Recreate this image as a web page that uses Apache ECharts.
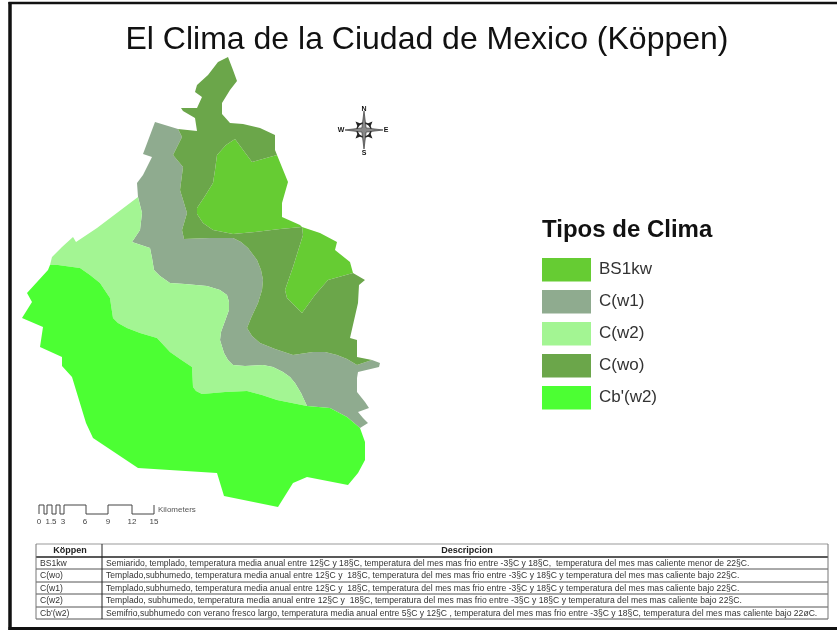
<!DOCTYPE html>
<html><head><meta charset="utf-8">
<style>html,body{margin:0;padding:0;background:#fff}#c{width:837px;height:630px}</style>
<script src="https://cdn.jsdelivr.net/npm/echarts@6/dist/echarts.min.js"></script>
</head><body><div id="c"></div>
<script>
// Climate classes, legend order
const climates = ["BS1kw", "C(w1)", "C(w2)", "C(wo)", "Cb'(w2)"];
const climateColors = ["#66cc33", "#8fab8f", "#a3f593", "#6ba64a", "#4cff33"];
// Table
const tableHead = ["Köppen", "Descripcion"];
const tableCodes = ["BS1kw", "C(wo)", "C(w1)", "C(w2)", "Cb'(w2)"];
const tableDesc = [
  "Semiarido, templado, temperatura media anual entre 12§C y 18§C, temperatura del mes mas frio entre -3§C y 18§C,  temperatura del mes mas caliente menor de 22§C.",
  "Templado,subhumedo, temperatura media anual entre 12§C y  18§C, temperatura del mes mas frio entre -3§C y 18§C y temperatura del mes mas caliente bajo 22§C.",
  "Templado,subhumedo, temperatura media anual entre 12§C y  18§C, temperatura del mes mas frio entre -3§C y 18§C y temperatura del mes mas caliente bajo 22§C.",
  "Templado, subhumedo, temperatura media anual entre 12§C y  18§C, temperatura del mes mas frio entre -3§C y 18§C y temperatura del mes mas caliente bajo 22§C.",
  "Semifrio,subhumedo con verano fresco largo, temperatura media anual entre 5§C y 12§C , temperatura del mes mas frio entre -3§C y 18§C, temperatura del mes mas caliente bajo 22øC."
];
const scaleKm = ["0", "1.5", "3", "6", "9", "12", "15"];

// Shared boundaries of the climate regions
const darkOuterNorth = [[228,57],[233,70],[237,81],[230,90],[222,103],[222,114],[230,123],[243,124],[260,128],[275,135],[275,150],[277,155]];
const blobTop = [[277,155],[252,162],[235,139]];
const blobWest = [[235,139],[226,145],[217,155],[215,170],[213,183],[205,196],[197,208],[197,214],[203,223],[213,230],[233,234],[255,232],[280,229],[302,227]];
const blobOuter = [[277,155],[288,182],[282,203],[282,217],[300,225],[302,227]];
const eastOuter = [[302,227],[320,233],[337,242],[335,250],[350,262],[353,273]];
const eastInner = [[302,227],[303,235],[293,267],[285,290],[287,298],[302,313],[315,295],[328,280],[353,273]];
const darkOuterEast = [[353,273],[365,280],[359,285],[358,303],[350,338],[357,340],[357,357],[372,360]];
const greyDark = [[372,360],[357,365],[347,359],[337,355],[325,352],[313,352],[293,355],[275,349],[260,343],[252,336],[247,328],[251,318],[258,303],[262,290],[263,280],[261,270],[257,260],[248,248],[241,242],[233,238],[210,238],[184,239],[182,230],[187,213],[180,190],[183,167],[173,155],[182,137],[178,129]];
const darkWest = [[178,129],[197,131],[195,118],[183,111],[181,108],[197,108],[202,97],[195,92],[197,85],[208,75],[218,62],[228,57]];
const greyEast = [[372,360],[380,363],[379,367],[358,372],[357,378],[357,392],[365,402],[369,408],[358,412],[363,418],[368,423],[360,428]];
const cbGrey = [[360,428],[347,417],[330,408],[307,406]];
const lightGrey = [[307,406],[301,393],[295,383],[290,377],[283,372],[273,367],[263,365],[245,366],[233,365],[228,360],[224,353],[220,340],[221,332],[229,310],[229,302],[227,295],[220,290],[207,286],[185,284],[170,283],[160,276],[154,270],[152,258],[150,248],[132,242],[140,230],[142,213],[138,197]];
const greyWest = [[138,197],[137,183],[143,175],[152,157],[143,154],[155,122],[178,129]];
const lightCb = [[307,406],[277,400],[262,395],[247,391],[225,392],[202,394],[196,391],[193,387],[192,367],[180,359],[170,352],[157,338],[140,333],[127,328],[118,323],[113,318],[111,305],[110,298],[100,283],[90,275],[80,268],[58,265],[50,265]];
const lightOuter = [[50,265],[52,257],[62,247],[73,237],[76,242],[97,228],[138,197]];
const cbOuter = [[360,428],[365,442],[365,460],[358,473],[348,485],[307,477],[293,483],[278,507],[224,496],[217,473],[138,468],[93,438],[86,423],[72,377],[62,366],[62,357],[40,347],[43,327],[22,318],[32,302],[27,293],[48,270],[50,265]];

const rev = a => a.slice().reverse();
const ring = (...edges) => { const r = [].concat(...edges); r.push(r[0]); return r; };
const regionRings = {
  "BS1kw": [ring(blobOuter, rev(blobWest), rev(blobTop)), ring(eastOuter, rev(eastInner))],
  "C(w1)": [ring(greyEast, cbGrey, lightGrey, greyWest, rev(greyDark))],
  "C(w2)": [ring(lightGrey, rev(lightOuter), rev(lightCb))],
  "C(wo)": [ring(darkOuterNorth, blobTop, blobWest, eastInner, darkOuterEast, greyDark, darkWest)],
  "Cb'(w2)": [ring(cbOuter, rev(lightCb), rev(cbGrey))]
};
const geoJson = {
  type: "FeatureCollection",
  features: climates.map(n => ({
    type: "Feature", properties: { name: n },
    geometry: { type: "MultiPolygon", coordinates: regionRings[n].map(r => [r]) }
  }))
};
echarts.registerMap("cdmx", geoJson);

const FONT = '"Liberation Sans", Arial, sans-serif';
const W = 837, H = 630;

const colX = [36, 102, 828];
const rowY = [544, 557, 569, 582, 594, 607, 619];
const g = [];
const line = (x1, y1, x2, y2, w, c) => g.push({ type: "line", silent: true, shape: { x1, y1, x2, y2 }, style: { stroke: c || "#333", lineWidth: w || 1 } });
const txt = (x, y, text, size, align, extra) => g.push({ type: "text", silent: true, x, y, style: Object.assign({ text, font: size + "px " + FONT, fill: "#222", align: align || "left", verticalAlign: "middle" }, extra || {}) });
// page frame (no right edge)
line(8.5, 3, W, 3, 2.5, "#111");
line(10, 2, 10, 630, 3.5, "#111");
line(8.5, 628.5, W, 628.5, 3, "#111");
// table lines
line(colX[0], rowY[0], colX[2], rowY[0], 1, "#999");
line(colX[0], rowY[1], colX[2], rowY[1], 1.5, "#222");
for (let i = 2; i < rowY.length; i++) line(colX[0], rowY[i], colX[2], rowY[i], 1, "#555");
colX.forEach((x, i) => line(x, rowY[0], x, rowY[6], 1, i === 1 ? "#222" : "#777"));
txt((colX[0] + colX[1]) / 2 + 1, (rowY[0] + rowY[1]) / 2, tableHead[0], 9, "center", { font: "bold 9px " + FONT });
txt((colX[1] + colX[2]) / 2 + 2, (rowY[0] + rowY[1]) / 2, tableHead[1], 9, "center", { font: "bold 9px " + FONT });
tableCodes.forEach((t, i) => {
  txt(colX[0] + 4, (rowY[i + 1] + rowY[i + 2]) / 2 + 0.5, t, 8.6, "left", { fill: "#333" });
  txt(colX[1] + 4, (rowY[i + 1] + rowY[i + 2]) / 2 + 0.5, tableDesc[i], 8.6, "left", { fill: "#333" });
});
// Scale bar
const sy0 = 505, sy1 = 514;
const sx = [39, 44, 47, 52, 56, 60, 64, 86, 108, 132, 154];
const scalePts = [];
sx.forEach((x, i) => { if (i === 0) { scalePts.push([x, sy1], [x, sy0]); } else { const prev = (i % 2 === 1) ? sy0 : sy1; const next = (i % 2 === 1) ? sy1 : sy0; scalePts.push([x, prev]); if (i < sx.length - 1) scalePts.push([x, next]); } });
g.push({ type: "polyline", silent: true, shape: { points: scalePts }, style: { stroke: "#444", fill: "none", lineWidth: 1 } });
line(154, 505, 154, 514, 1, "#444");
txt(158, 510, "Kilometers", 8, "left", { fill: "#555" });
[39, 51, 63, 85, 108, 132, 154].forEach((x, i) => txt(x, 522, scaleKm[i], 8, "center", { fill: "#444" }));
// Compass
const cx = 364, cy = 130;
const star = (r1, r2, rot) => { const p = []; for (let i = 0; i < 8; i++) { const a = rot + i * Math.PI / 4; const r = i % 2 ? r2 : r1; p.push([cx + r * Math.sin(a), cy - r * Math.cos(a)]); } return p; };
g.push({ type: "polygon", silent: true, shape: { points: star(12, 5, Math.PI / 4) }, style: { fill: "#222" } });
g.push({ type: "circle", silent: true, shape: { cx, cy, r: 7 }, style: { fill: "#fff", stroke: "#222", lineWidth: 1.5 } });
g.push({ type: "polygon", silent: true, shape: { points: star(19, 3, 0) }, style: { fill: "#888", stroke: "#222", lineWidth: 0.6 } });
txt(cx, 109, "N", 7, "center", { font: "bold 7px " + FONT, fill: "#111" });
txt(cx, 153, "S", 7, "center", { font: "bold 7px " + FONT, fill: "#111" });
txt(341, cy, "W", 7, "center", { font: "bold 7px " + FONT, fill: "#111" });
txt(386, cy, "E", 7, "center", { font: "bold 7px " + FONT, fill: "#111" });

const chart = echarts.init(document.getElementById("c"), null, { renderer: "canvas" });
chart.setOption({
  animation: false,
  backgroundColor: "#fff",
  title: [
    { text: "El Clima de la Ciudad de Mexico (Köppen)", left: 422, top: 19, textAlign: "center",
      textStyle: { fontFamily: FONT, fontSize: 32, fontWeight: "normal", color: "#111" } },
    { text: "Tipos de Clima", left: 542, top: 218,
      textStyle: { fontFamily: FONT, fontSize: 24, fontWeight: "bold", color: "#111" }, padding: 0 }
  ],
  visualMap: {
    type: "piecewise", seriesIndex: 0, dimension: "value", left: 542, top: 258, orient: "vertical", inverse: true,
    padding: 0, itemWidth: 49, itemHeight: 23.5, itemGap: 8.5, itemSymbol: "rect", textGap: 8,
    align: "left", selectedMode: false, hoverLink: false, showLabel: true,
    textStyle: { fontFamily: FONT, fontSize: 17, color: "#333" },
    pieces: climates.map((n, i) => ({ value: i, label: n, color: climateColors[i] }))
  },
  series: [{
    type: "map", map: "cdmx", name: "Clima", roam: false, silent: true, showLegendSymbol: false,
    projection: { project: p => [p[0], p[1]], unproject: p => [p[0], p[1]] },
    boundingCoords: [[0, 0], [W, H]],
    left: 0, top: 0, width: W, height: H,
    label: { show: false },
    itemStyle: { borderWidth: 0, borderColor: "transparent" },
    data: climates.map((n, i) => ({ name: n, value: i }))
  }],
  graphic: g
});
</script></body></html>
